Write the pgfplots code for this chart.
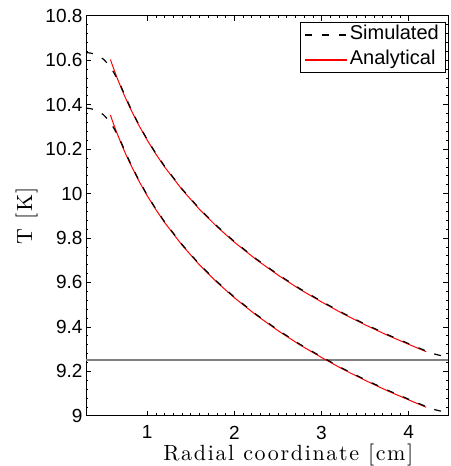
\documentclass[border=0pt]{standalone}
\usepackage{pgfplots}
\pgfplotsset{compat=1.18}
\usepackage{fontspec}
\newfontfamily\helv{Liberation Sans}
\newfontfamily\lmls{lmroman10-regular.otf}[LetterSpace=7.5]
\usetikzlibrary{calc}

\pgfplotstableread{
x y
0.30 10.634
0.35 10.632
0.40 10.627
0.45 10.618
0.50 10.604
0.55 10.584
0.60 10.557
0.65 10.522
0.70 10.483
0.75 10.438
0.80 10.394
0.90 10.314
1.00 10.244
1.10 10.181
1.20 10.123
1.40 10.021
1.60 9.932
1.80 9.854
2.00 9.784
2.25 9.706
2.50 9.636
2.75 9.572
3.00 9.515
3.25 9.461
3.50 9.412
3.75 9.366
4.00 9.324
4.20 9.291
4.30 9.277
4.35 9.272
4.40 9.269
4.45 9.268
}\simup

\pgfplotstableread{
x y
0.30 10.384
0.35 10.382
0.40 10.377
0.45 10.368
0.50 10.354
0.55 10.334
0.60 10.307
0.65 10.272
0.70 10.233
0.75 10.188
0.80 10.144
0.90 10.064
1.00 9.994
1.10 9.931
1.20 9.873
1.40 9.771
1.60 9.682
1.80 9.604
2.00 9.534
2.25 9.456
2.50 9.386
2.75 9.322
3.00 9.265
3.25 9.211
3.50 9.162
3.75 9.116
4.00 9.074
4.20 9.041
4.30 9.027
4.35 9.022
4.40 9.019
4.45 9.018
}\simlo

\pgfplotstableread{
x y
0.58 10.603
0.60 10.580
0.65 10.527
0.70 10.478
0.75 10.432
0.80 10.389
0.90 10.311
1.00 10.241
1.10 10.178
1.20 10.120
1.40 10.018
1.60 9.929
1.80 9.851
2.00 9.781
2.25 9.703
2.50 9.633
2.75 9.569
3.00 9.512
3.25 9.458
3.50 9.409
3.75 9.363
4.00 9.321
4.20 9.288
}\anaup

\pgfplotstableread{
x y
0.58 10.353
0.60 10.330
0.65 10.277
0.70 10.228
0.75 10.182
0.80 10.139
0.90 10.061
1.00 9.991
1.10 9.928
1.20 9.870
1.40 9.768
1.60 9.679
1.80 9.601
2.00 9.531
2.25 9.453
2.50 9.383
2.75 9.319
3.00 9.262
3.25 9.208
3.50 9.159
3.75 9.113
4.00 9.071
4.20 9.038
}\analo

\begin{document}
\begin{tikzpicture}
\begin{axis}[
  name=ax,
  scale only axis, width=362pt, height=400pt,
  xmin=0.3, xmax=4.45, ymin=9, ymax=10.8,
  xtick={1,2,3,4},
  ytick={9,9.2,9.4,9.6,9.8,10,10.2,10.4,10.6,10.8},
  minor x tick num=9, minor y tick num=4,
  tick align=inside, major tick length=5pt, minor tick length=2.5pt,
  tick style={black, line width=0.5pt},
  axis line style={line width=0.8pt},
  /pgf/number format/assume math mode=true,
  ticklabel style={font=\helv\fontsize{19}{19}\selectfont},
  xticklabel style={inner sep=0pt, yshift=-10pt, text depth=0pt},
  xlabel={Radial coordinate [cm]},
  ylabel={T [K]},
  label style={font=\lmls\fontsize{22}{22}\selectfont, inner sep=0pt},
  xlabel style={at={(axis description cs:0.559,0)}, anchor=base, yshift=-44.5pt, text height=13pt},
  ylabel style={at={(axis description cs:-0.149,0.5)}, anchor=base},
  legend style={at={(rel axis cs:0.992,0.984)}, anchor=north east,
    draw=black, line width=0.6pt, font=\helv\fontsize{20}{20}\selectfont,
    inner xsep=4pt, inner ysep=1.5pt, row sep=3pt,
    nodes={inner sep=2pt, text height=14pt, text depth=4pt}, cells={anchor=west}},
  legend image code/.code={\draw[#1] (0pt,0pt) -- (42pt,0pt);},
]
\addlegendimage{black, line width=1.2pt, dash pattern=on 7pt off 10pt}
\addlegendentry{Simulated}
\addlegendimage{color=red, line width=1.4pt}
\addlegendentry{Analytical}
\addplot[gray, line width=1.3pt, forget plot] coordinates {(0.3,9.25) (4.45,9.25)};
\addplot[red, line width=1pt, forget plot] table[x=x,y=y] {\anaup};
\addplot[red, line width=1pt, forget plot] table[x=x,y=y] {\analo};
\addplot[black, line width=1.2pt, dash pattern=on 7pt off 10pt, forget plot] table[x=x,y=y] {\simup};
\addplot[black, line width=1.2pt, dash pattern=on 7pt off 10pt, forget plot] table[x=x,y=y] {\simlo};
\end{axis}
\pgfresetboundingbox
\path ($(ax.south west)+(-86pt,-50.3pt)$) rectangle ($(ax.north east)+(3pt,15.7pt)$);
\end{tikzpicture}
\end{document}
